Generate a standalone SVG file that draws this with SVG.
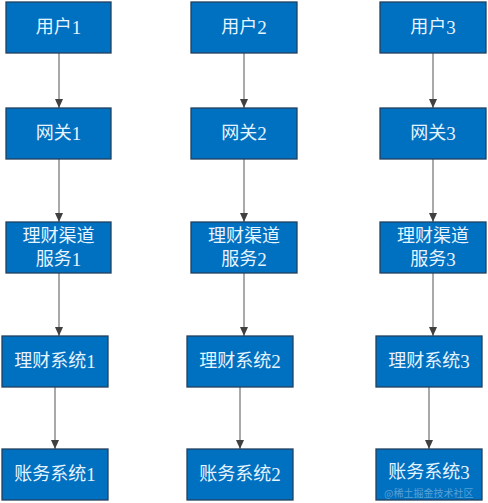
<svg xmlns="http://www.w3.org/2000/svg" width="488" height="503" viewBox="0 0 488 503">
<defs>
<style>
.box{fill:#0070C0;stroke:#23405E;stroke-width:1.3}
.t{fill:#E6F4FF;font-family:"Liberation Serif","Noto Sans CJK SC",serif;font-size:18px;text-anchor:middle;dominant-baseline:central}
.d{font-family:"Liberation Serif",serif;font-size:19px}
.c{stroke:#8C8C8C;stroke-width:1.5;fill:none;marker-end:url(#ah)}
.wm{fill:#FFFFFF;fill-opacity:0.35;font-family:"Noto Sans CJK SC",sans-serif;font-size:10px}
</style>
<marker id="ah" markerWidth="10" markerHeight="8" refX="9" refY="4" orient="auto" markerUnits="userSpaceOnUse">
<path d="M0,0 L9,4 L0,8 Z" fill="#404040"/>
</marker>
</defs>
<rect width="488" height="503" fill="#FFFFFF"/>
<g id="connectors">
<line class="c" x1="59" y1="53" x2="59" y2="108"/>
<line class="c" x1="59" y1="159" x2="59" y2="222"/>
<line class="c" x1="59" y1="273" x2="59" y2="336"/>
<line class="c" x1="55" y1="387" x2="55" y2="449"/>
<line class="c" x1="244" y1="53" x2="244" y2="108"/>
<line class="c" x1="244" y1="159" x2="244" y2="222"/>
<line class="c" x1="244" y1="273" x2="244" y2="336"/>
<line class="c" x1="240" y1="387" x2="240" y2="449"/>
<line class="c" x1="433" y1="53" x2="433" y2="108"/>
<line class="c" x1="433" y1="159" x2="433" y2="222"/>
<line class="c" x1="433" y1="273" x2="433" y2="336"/>
<line class="c" x1="429" y1="387" x2="429" y2="449"/>
</g>
<g id="user1"><rect class="box" x="6" y="2" width="105" height="51"/><text class="t" x="58.5" y="27">用户<tspan class="d">1</tspan></text></g>
<g id="gateway1"><rect class="box" x="6" y="108" width="105" height="51"/><text class="t" x="58.5" y="133">网关<tspan class="d">1</tspan></text></g>
<g id="channel1"><rect class="box" x="6" y="222" width="105" height="51"/><text class="t" x="58.5" y="236">理财渠道</text><text class="t" x="58.5" y="259">服务<tspan class="d">1</tspan></text></g>
<g id="wealth1"><rect class="box" x="2" y="336" width="106" height="51"/><text class="t" x="55" y="361">理财系统<tspan class="d">1</tspan></text></g>
<g id="account1"><rect class="box" x="2" y="449" width="106" height="51"/><text class="t" x="55" y="474">账务系统<tspan class="d">1</tspan></text></g>
<g id="user2"><rect class="box" x="191" y="2" width="106" height="51"/><text class="t" x="244" y="27">用户<tspan class="d">2</tspan></text></g>
<g id="gateway2"><rect class="box" x="191" y="108" width="106" height="51"/><text class="t" x="244" y="133">网关<tspan class="d">2</tspan></text></g>
<g id="channel2"><rect class="box" x="191" y="222" width="106" height="51"/><text class="t" x="244" y="236">理财渠道</text><text class="t" x="244" y="259">服务<tspan class="d">2</tspan></text></g>
<g id="wealth2"><rect class="box" x="187" y="336" width="106" height="51"/><text class="t" x="240" y="361">理财系统<tspan class="d">2</tspan></text></g>
<g id="account2"><rect class="box" x="187" y="449" width="106" height="51"/><text class="t" x="240" y="474">账务系统<tspan class="d">2</tspan></text></g>
<g id="user3"><rect class="box" x="380" y="2" width="106" height="51"/><text class="t" x="433" y="27">用户<tspan class="d">3</tspan></text></g>
<g id="gateway3"><rect class="box" x="380" y="108" width="106" height="51"/><text class="t" x="433" y="133">网关<tspan class="d">3</tspan></text></g>
<g id="channel3"><rect class="box" x="380" y="222" width="106" height="51"/><text class="t" x="433" y="236">理财渠道</text><text class="t" x="433" y="259">服务<tspan class="d">3</tspan></text></g>
<g id="wealth3"><rect class="box" x="376" y="336" width="106" height="51"/><text class="t" x="429" y="361">理财系统<tspan class="d">3</tspan></text></g>
<g id="account3"><rect class="box" x="376" y="449" width="106" height="51"/><text class="t" x="429" y="472">账务系统<tspan class="d">3</tspan></text></g>
<text class="wm" x="384" y="497">@稀土掘金技术社区</text>
</svg>
